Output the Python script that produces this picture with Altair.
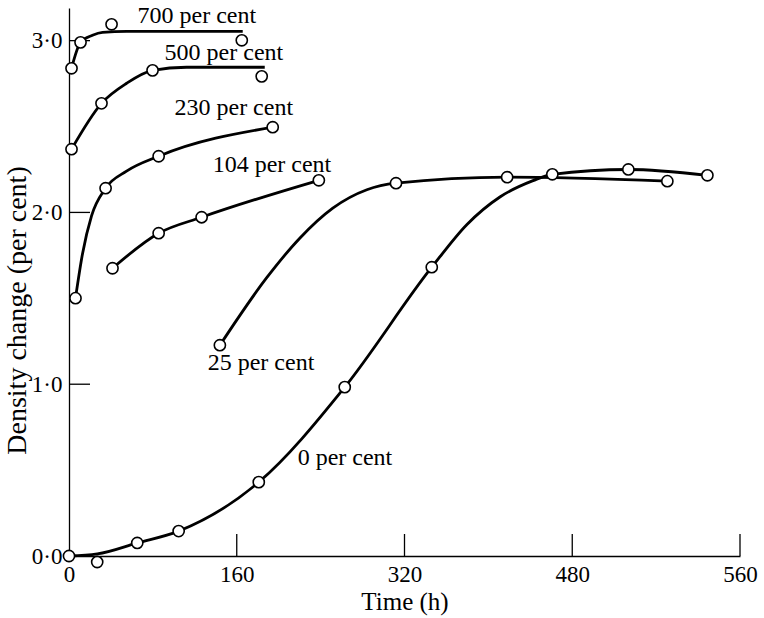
import altair as alt
import pandas as pd

# ---- data ----
series_names = ["0 per cent", "25 per cent", "104 per cent", "230 per cent", "500 per cent", "700 per cent"]

# observed points (time h, density change %)
p0_t = [0, 26.9, 65.1, 104.6, 181, 263, 346, 461, 533.5, 608.9]
p0_v = [0, -0.035, 0.076, 0.145, 0.430, 0.983, 1.681, 2.222, 2.250, 2.216]
p25_t = [143.9, 311.9, 417.9, 570.7]
p25_v = [1.227, 2.170, 2.205, 2.182]
p104_t = [41.5, 85.5, 126.5, 238.3]
p104_v = [1.675, 1.879, 1.972, 2.187]
p230_t = [6.2, 34.9, 85.5, 194.3]
p230_v = [1.501, 2.141, 2.327, 2.496]
p500_t = [2.4, 31, 79.7, 183.8]
p500_v = [2.368, 2.635, 2.827, 2.792]
p700_t = [2.4, 11, 40.6, 164.8]
p700_v = [2.839, 2.990, 3.095, 3.002]

# fitted curves as drawn
c0_t = [0, 27, 65.1, 104.6, 181, 263, 346, 379.6, 411, 442.6, 461, 533.5, 608.9]
c0_v = [0, 0.012, 0.076, 0.145, 0.430, 0.983, 1.681, 1.930, 2.090, 2.185, 2.222, 2.250, 2.216]
c25_t = [143.9, 188.6, 220.1, 251.6, 284.1, 311.9, 417.9, 570.7]
c25_v = [1.227, 1.620, 1.850, 2.025, 2.132, 2.170, 2.205, 2.182]
c104_t = [41.5, 85.5, 126.5, 238.3]
c104_v = [1.675, 1.879, 1.972, 2.187]
c230_t = [6.2, 12.9, 21.5, 34.9, 54.9, 85.5, 194.3]
c230_v = [1.501, 1.760, 1.980, 2.141, 2.240, 2.327, 2.496]
c500_t = [2.4, 31, 55, 79.7, 112.1, 186.7]
c500_v = [2.368, 2.635, 2.752, 2.827, 2.845, 2.845]
c700_t = [2.4, 11, 22.4, 32, 55, 165.7]
c700_v = [2.839, 2.990, 3.031, 3.048, 3.054, 3.054]

# curve labels
lab_text = ["700 per cent", "500 per cent", "230 per cent", "104 per cent", "25 per cent", "0 per cent"]
lab_t = [65.4, 91.2, 100.6, 137, 132.3, 218.1]
lab_v = [3.143, 2.930, 2.606, 2.277, 1.123, 0.570]

# axis ticks
x_tick_values = [0, 160, 320, 480, 640]
x_tick_labels = ["0", "160", "320", "480", "560"]
y_tick_values = [0, 1, 2, 3]
y_tick_labels = ["0·0", "1·0", "2·0", "3·0"]

# ---- tables ----
pts_t = [p0_t, p25_t, p104_t, p230_t, p500_t, p700_t]
pts_v = [p0_v, p25_v, p104_v, p230_v, p500_v, p700_v]
crv_t = [c0_t, c25_t, c104_t, c230_t, c500_t, c700_t]
crv_v = [c0_v, c25_v, c104_v, c230_v, c500_v, c700_v]

pts = pd.DataFrame([
    {"series": s, "t": t, "v": v}
    for s, ts, vs in zip(series_names, pts_t, pts_v) for t, v in zip(ts, vs)
])
crv = pd.DataFrame([
    {"series": s, "t": t, "v": v, "i": i}
    for s, ts, vs in zip(series_names, crv_t, crv_v) for i, (t, v) in enumerate(zip(ts, vs))
])
labs = pd.DataFrame({"text": lab_text, "t": lab_t, "v": lab_v})
xt = pd.DataFrame({"t": x_tick_values[1:]})
yt = pd.DataFrame({"v": y_tick_values[1:]})


def label_expr(values, labels):
    expr = "''"
    for val, lab in reversed(list(zip(values, labels))):
        expr = f"datum.value == {val} ? '{lab}' : ({expr})"
    return expr


FONT = "Liberation Serif"
W, H = 671, 548

xscale = alt.Scale(domain=[0, 640], nice=False, zero=False)
yscale = alt.Scale(domain=[0, 3.19], nice=False, zero=False)

xaxis = alt.Axis(values=x_tick_values, labelExpr=label_expr(x_tick_values, x_tick_labels),
                 ticks=False, grid=False, domainColor="black", domainWidth=1.3,
                 labelFont=FONT, labelFontSize=23, labelColor="black",
                 labelBaseline="middle", labelPadding=18, labelFlush=False,
                 title="Time (h)", titleFont=FONT, titleFontSize=25, titleFontWeight="normal",
                 titleColor="black", titleBaseline="middle", titleY=45)
yaxis = alt.Axis(values=y_tick_values, labelExpr=label_expr(y_tick_values, y_tick_labels),
                 ticks=False, grid=False, domainColor="black", domainWidth=1.3,
                 labelFont=FONT, labelFontSize=23, labelColor="black",
                 labelPadding=7, labelFlush=False,
                 title="Density change (per cent)", titleFont=FONT, titleFontSize=28,
                 titleFontWeight="normal", titleColor="black", titleBaseline="middle",
                 titleAngle=-90, titleX=-52, titleY=302, titleAlign="center")

base_x = alt.X("t:Q", scale=xscale, axis=xaxis)
base_y = alt.Y("v:Q", scale=yscale, axis=yaxis)

lines = alt.Chart(crv).mark_line(color="black", strokeWidth=2.8, interpolate="monotone").encode(
    x=base_x, y=base_y, detail="series:N", order="i:Q")

points = alt.Chart(pts).mark_point(shape="circle", filled=True, fill="white", stroke="black",
                                   strokeWidth=1.6, size=125, opacity=1).encode(
    x=alt.X("t:Q", scale=xscale), y=alt.Y("v:Q", scale=yscale))

texts = alt.Chart(labs).mark_text(font=FONT, fontSize=24, color="black", align="left",
                                  baseline="middle").encode(
    x=alt.X("t:Q", scale=xscale), y=alt.Y("v:Q", scale=yscale), text="text:N")

xticks = alt.Chart(xt).mark_rule(color="black", strokeWidth=1.3).encode(
    x=alt.X("t:Q", scale=xscale), y=alt.value(H), y2=alt.value(H - 22))
yticks = alt.Chart(yt).mark_rule(color="black", strokeWidth=1.3).encode(
    y=alt.Y("v:Q", scale=yscale), x=alt.value(0), x2=alt.value(21))

chart = alt.layer(xticks, yticks, lines, points, texts).properties(
    width=W, height=H,
    autosize=alt.AutoSizeParams(type="none"),
    padding={"left": 69, "top": 8, "right": 24, "bottom": 62},
    background="white",
).configure_view(stroke=None)

chart.save("out.html", embed_options={"renderer": "svg", "actions": False})
